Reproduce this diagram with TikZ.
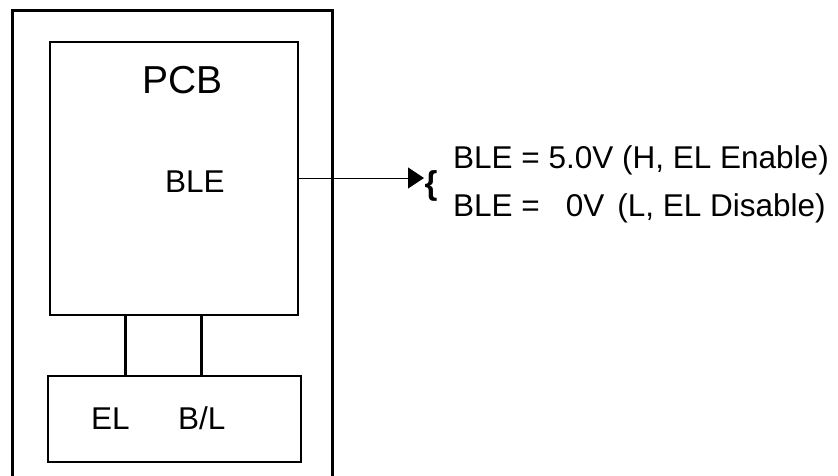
\documentclass[tikz,border=0pt]{standalone}
\usepackage{fontspec}
\setmainfont{Liberation Sans}
\usetikzlibrary{arrows.meta,positioning}

\begin{document}
\begin{tikzpicture}[
  x=1pt, y=-1pt,
  housing/.style={draw, line width=3pt, minimum width=320pt, minimum height=500pt, inner sep=0pt},
  board/.style={draw, line width=1.3pt, inner sep=0pt},
  wire/.style={line width=3pt},
  signal/.style={line width=1pt, -{Triangle[length=16pt,width=21pt]}},
  lbl/.style={font=\fontsize{31.5}{36}\selectfont, inner sep=0pt, anchor=base west}
]
  \useasboundingbox (0,0) rectangle (838,475);
  \clip (0,0) rectangle (838,475);

  % Housing and boards
  \node[housing] (housing) at (172,260) {};
  \node[board, minimum width=248pt, minimum height=273pt] (pcb) at (174,178.5) {};
  \node[board, minimum width=253pt, minimum height=86pt] (elbox) at (174.5,419) {};

  % Labels inside
  \node[lbl, font=\fontsize{39}{42}\selectfont] (pcbtext) at (142,93) {PCB};
  \node[lbl] (ble) at (165,192) {BLE};
  \node[lbl] (el) at (91,429) {EL};
  \node[lbl] (bl) at (178,429) {B/L};

  % Wires between PCB and EL board
  \draw[wire] (pcb.south -| 125,0) -- (elbox.north -| 125,0);
  \draw[wire] (pcb.south -| 201,0) -- (elbox.north -| 201,0);

  % BLE signal
  \coordinate (tip) at (424,178);
  \draw[signal] (pcb.east |- tip) -- (tip);
  \node[inner sep=0pt, font=\fontsize{33}{33}\selectfont\bfseries] (brace) at (431,186) {\{};

  % States
  \node[lbl] (high) at (453,168) {BLE = 5.0V (H, EL Enable)};
  \node[lbl] (low) at (453,216) {BLE =\hspace{26pt}0V\hspace{13pt}(L, EL Disable)};
\end{tikzpicture}
\end{document}
